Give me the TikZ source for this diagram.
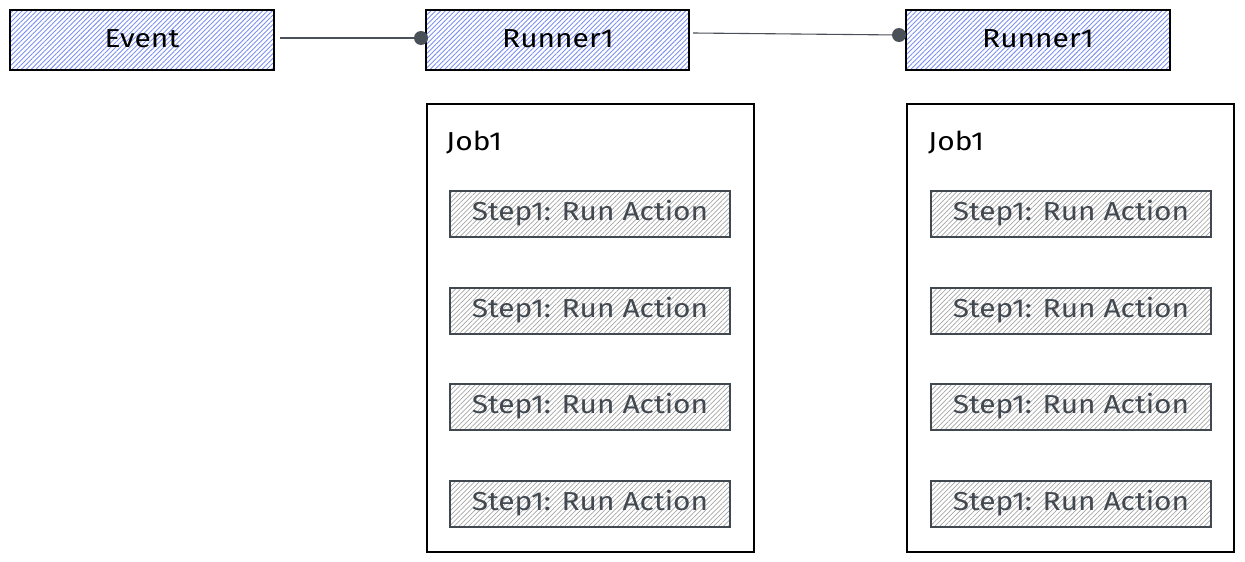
\documentclass[tikz,border=0pt]{standalone}
\usepackage{fontspec}
\setmainfont{Fira Sans}
\usetikzlibrary{patterns.meta}
\definecolor{hatchblue}{RGB}{125,145,240}
\definecolor{hatchgray}{RGB}{165,165,165}
\definecolor{stepink}{RGB}{65,72,80}
\definecolor{linkink}{RGB}{73,80,87}
\newcommand{\wide}[1]{\scalebox{1.15}[1]{#1}}
\tikzset{
  bluebox/.style={draw=black, line width=1.3pt,
    pattern={Lines[angle=45,distance=3.4pt,line width=0.9pt]}, pattern color=hatchblue},
  stepbox/.style={draw=stepink, line width=1.1pt,
    pattern={Lines[angle=45,distance=3.4pt,line width=0.7pt]}, pattern color=hatchgray},
  jobbox/.style={draw=black, line width=1.2pt},
  lbl/.style={font=\fontsize{26}{30}\selectfont, text=black},
  steplbl/.style={font=\fontsize{26}{30}\selectfont, text=stepink},
  link/.style={draw=linkink, line width=1.1pt},
  dot/.style={circle, fill=linkink, inner sep=0pt, minimum size=14pt},
}
\begin{document}
\begin{tikzpicture}[x=1pt,y=-1pt]
\useasboundingbox (0,0) rectangle (1245,562);
% top boxes
\path[bluebox] (10,10) rectangle (274,70);
\node[lbl] (event) at (142,39) {\wide{Event}};
\path[bluebox] (426,10) rectangle (689,70);
\node[lbl] (runA) at (558,39) {\wide{Runner1}};
\path[bluebox] (906,10) rectangle (1170,70);
\node[lbl] (runB) at (1038,39) {\wide{Runner1}};
% connectors
\coordinate (c1s) at (280,38);
\node[dot] (d1) at (421,38) {};
\draw[link] (c1s) -- (d1.center);
\coordinate (c2s) at (693,33);
\node[dot] (d2) at (899,35) {};
\draw[link] (c2s) -- (d2.center);
% job boxes
\draw[jobbox] (427,104) rectangle (754,552);
\node[lbl, anchor=west, inner sep=0pt] (jobA) at (446,143) {\wide{Job1}};
\draw[jobbox] (907,104) rectangle (1234,552);
\node[lbl, anchor=west, inner sep=0pt] (jobB) at (928,143) {\wide{Job1}};
% steps
\foreach \i/\y in {1/191,2/288,3/384,4/481}{
  \path[stepbox] (450,\y) rectangle (730,\y+46);
  \node[steplbl] (sA\i) at (590,\y+22) {\wide{Step1: Run Action}};
  \path[stepbox] (931,\y) rectangle (1211,\y+46);
  \node[steplbl] (sB\i) at (1071,\y+22) {\wide{Step1: Run Action}};
}
\end{tikzpicture}
\end{document}
